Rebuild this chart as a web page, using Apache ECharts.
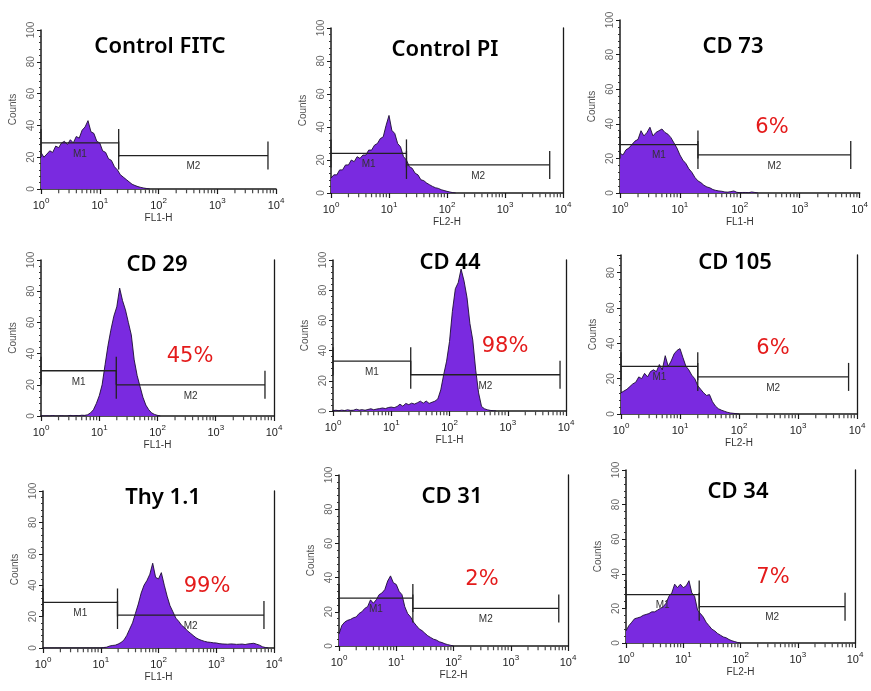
<!DOCTYPE html>
<html><head><meta charset="utf-8">
<script src="https://cdn.jsdelivr.net/npm/echarts@6/dist/echarts.min.js"></script>
<style>html,body{margin:0;padding:0;background:#fff}#c{width:871px;height:691px}</style>
</head><body><div id="c"></div>
<script>
// ---- DATA ----
const channels = [1, 1.12, 1.26, 1.41, 1.58, 1.78, 2, 2.24, 2.51, 2.82, 3.16, 3.55, 3.98, 4.47, 5.01, 5.62, 6.31, 7.08, 7.94, 8.91,
  10, 11.2, 12.6, 14.1, 15.8, 17.8, 20, 22.4, 25.1, 28.2, 31.6, 35.5, 39.8, 44.7, 50.1, 56.2, 63.1, 70.8, 79.4, 89.1,
  100, 112, 126, 141, 158, 178, 200, 224, 251, 282, 316, 355, 398, 447, 501, 562, 631, 708, 794, 891,
  1000, 1120, 1260, 1410, 1580, 1780, 2000, 2240, 2510, 2820, 3160, 3550, 3980, 4470, 5010, 5620, 6310, 7080, 7940, 8910, 10000];
const minorTickValues = [2,3,4,5,6,7,8,9,20,30,40,50,60,70,80,90,200,300,400,500,600,700,800,900,2000,3000,4000,5000,6000,7000,8000,9000];

const titles = ['Control FITC', 'Control PI', 'CD 73', 'CD 29', 'CD 44', 'CD 105', 'Thy 1.1', 'CD 31', 'CD 34'];
const percents = ['', '', '6%', '45%', '98%', '6%', '99%', '2%', '7%'];
const xAxisNames = ['FL1-H', 'FL2-H', 'FL1-H', 'FL1-H', 'FL1-H', 'FL2-H', 'FL1-H', 'FL2-H', 'FL2-H'];
const yAxisName = 'Counts';
const yMaxes = [100, 100, 100, 100, 100, 90, 100, 100, 100];
const gateNames = ['M1', 'M2'];

const countsFITC = [23,20,22,24,23,27,26,29,30,28,31,29,33,32,37,39,43,36,35,30,29,24,23,19,18,14,12,9,7.5,6,4.5,3,2.2,1.5,1,0.6,0.3,0];
const countsPI = [9,11,11,14,14,17,17,20,19,22,21,23,23,26,26,29,30,33,34,41,47,38,36,30,28,22,20,16,15,12,11,8,7.5,6,5,4,3.2,2.8,2,1.5,1,0.6,0.2,0];
const countsCD73 = [23,22,25,26,28,30,31,36,33,35,38,33,35,36,37,35,34,32,29,26,22,19,17,14,12,9,7,6,4.5,3.5,3,2,1.5,1.2,1,0.6,0.5,0.8,1.2,0.4,0.2,0.3,0.3,0.2,0.6,0.3,0];
const countsCD29 = [0.2,0,0.1,0,0.3,0,0,0.2,0,0,0.4,0.1,0.3,0.2,0.5,0.4,0.8,2,4,8,13,20,33,45,55,64,70,82,74,68,60,52,36,26,19,12,7,4,2,1,0.4,0];
const countsCD44 = [0.3,0.5,0.2,0.6,0.3,0.8,0.4,0.5,1.2,0.6,0.9,0.5,1,1.5,0.8,1.3,1.6,2,1.6,2.3,2.6,2.2,3,4.5,3.2,5,4.2,5.2,4.6,5.5,6.5,5.2,6.6,5,5.8,6.5,8,14,24,33,46,66,81,85,94,86,75,58,47,27,12,3,1.5,0.8,0.4,0.2,0];
const countsCD105 = [12,13,14,15.5,17,18,21,20,23,21,24,25,24,28,25,33,27,30,34,36,37,32,27,25,22,20,16,14,12,10.5,11,7,4.5,3,2.2,1.6,1,0.6,0.4,0.2,0];
const countsThy = [0,0,0,0,0,0,0,0,0,0,0,0,0,0,0,0,0,0,0,0,0,0.3,0.5,1.2,1.6,1.8,2.5,3.5,5,8,12,16,22,28,35,40,43,47,54,45,44,48,40,33,27,23,19,17,14.5,13,11,9.5,8,6.5,5.5,4.8,4.2,3.8,3.6,3.3,3.2,2.8,2.6,2.5,2.4,2.6,2.5,2.3,2.4,2.5,2.2,2.6,2.8,3,2.4,1.8,0.8,0.3,0];
const countsCD31 = [7,12,14,15,15.5,16.5,17,19,20,22,23,27,25,27,30,31,33,38,41,37,36,32,30,23,19,17,14,12,10,9,7.5,6,5,4,3.5,2.5,2,1.3,0.8,0.4,0];
const countsCD34 = [7,10,12,14,14.5,15,16,16.5,17,18,18,19,20,21,23,27,29,34,32,34,32,33,36,29,27,19,17,15,12,10,8,7,5.5,4.5,3.5,3,2,1.3,0.8,0.3,0];

const gatesFITC = [[1,21,29],[21,7300,21]];
const gatesPI = [[1,20,24],[20,5900,17]];
const gatesCD73 = [[1,20,28],[20,7100,22]];
const gatesCD29 = [[1,19.6,29],[19.6,7000,20]];
const gatesCD44 = [[1,21.6,33],[21.6,7900,24]];
const gatesCD105 = [[1,20,27],[20,7200,21]];
const gatesThy = [[1,19.5,29],[19.5,6700,21]];
const gatesCD31 = [[1,19.5,28],[19.5,6900,22]];
const gatesCD34 = [[1,19,28],[19,6700,21]];

const allCounts = [countsFITC, countsPI, countsCD73, countsCD29, countsCD44, countsCD105, countsThy, countsCD31, countsCD34];
const allGates = [gatesFITC, gatesPI, gatesCD73, gatesCD29, gatesCD44, gatesCD105, gatesThy, gatesCD31, gatesCD34];

// ---- LAYOUT ----
const layout = [
  {left:41, top:30, width:235, height:159, frame:false, tx:160, ty:47, px:0, py:0},
  {left:331, top:28, width:232, height:165, frame:true, tx:445, ty:50, px:0, py:0},
  {left:620, top:20, width:240, height:173, frame:false, tx:733, ty:47, px:772, py:128},
  {left:41, top:260, width:233, height:156, frame:true, tx:157, ty:265, px:190, py:357},
  {left:333, top:260, width:233, height:151, frame:true, tx:450, ty:263, px:505, py:347},
  {left:621, top:255, width:236, height:159, frame:true, tx:735, ty:263, px:773, py:349},
  {left:43, top:491, width:231, height:157, frame:true, tx:163, ty:498, px:207, py:587},
  {left:339, top:475, width:229, height:171, frame:true, tx:452, ty:497, px:482, py:580},
  {left:626, top:470, width:229, height:173, frame:true, tx:738, ty:492, px:773, py:578}
];

const axisColor = '#1a1a1a';
const fillColor = '#7a2ae0';

const grid = [], xAxis = [], yAxis = [], series = [], graphic = [];
layout.forEach((L, k) => {
  grid.push({left: L.left, top: L.top, width: L.width, height: L.height});
  xAxis.push({
    gridIndex: k, type: 'log', logBase: 10, min: 1, max: 10000, splitNumber: 4,
    name: xAxisNames[k], nameLocation: 'middle', nameGap: 24,
    nameTextStyle: {fontSize: 10, color: '#333', fontFamily: 'Liberation Sans'},
    axisLine: {lineStyle: {color: axisColor, width: 1.5}},
    axisTick: {show: true, length: 5, lineStyle: {color: axisColor, width: 1.2}},
    splitLine: {show: false},
    axisLabel: {
      margin: 8, color: '#222',
      formatter: v => '{b|10}{s|' + Math.round(Math.log10(v)) + '}',
      rich: {
        b: {fontSize: 11, fontFamily: 'Liberation Sans', color: '#222', verticalAlign: 'bottom'},
        s: {fontSize: 8, fontFamily: 'Liberation Sans', color: '#222', verticalAlign: 'top', padding: [0, 0, 6, 0]}
      }
    }
  });
  const yi = yAxis.length;
  yAxis.push({
    gridIndex: k, type: 'value', min: 0, max: yMaxes[k], interval: 20,
    name: yAxisName, nameLocation: 'middle', nameGap: 23,
    nameTextStyle: {fontSize: 10, color: '#555', fontFamily: 'Liberation Sans'},
    axisLine: {show: true, lineStyle: {color: axisColor, width: 1.5}},
    axisTick: {show: true, length: 4, lineStyle: {color: axisColor}},
    minorTick: {show: true, splitNumber: 5, length: 2, lineStyle: {color: '#333'}},
    splitLine: {show: false},
    axisLabel: {rotate: 90, fontSize: 10, color: '#666', margin: 5, fontFamily: 'Liberation Sans',
      showMaxLabel: yMaxes[k] % 20 === 0,
      formatter: v => (v % 20 === 0 ? String(v) : '')}
  });
  if (L.frame) {
    yAxis.push({
      gridIndex: k, type: 'value', min: 0, max: yMaxes[k], position: 'right',
      axisLine: {show: true, lineStyle: {color: axisColor, width: 1.3}},
      axisTick: {show: false}, axisLabel: {show: false}, splitLine: {show: false}
    });
  }
  series.push({
    type: 'line', xAxisIndex: k, yAxisIndex: yi, symbol: 'none', z: 2,
    data: allCounts[k].map((v, i) => [channels[i], v]),
    lineStyle: {color: '#1c0d33', width: 0.9},
    areaStyle: {color: fillColor, opacity: 1}
  });
  series.push({
    type: 'scatter', xAxisIndex: k, yAxisIndex: yi, silent: true, clip: false, z: 3,
    data: minorTickValues.map(v => [v, 0]),
    symbol: 'rect', symbolSize: [1.2, 3.5], symbolOffset: [0, 2.5],
    itemStyle: {color: axisColor}
  });
  series.push({
    type: 'custom', xAxisIndex: k, yAxisIndex: yi, silent: true, clip: false, z: 5,
    encode: {x: [0, 1], y: 2},
    data: allGates[k],
    renderItem: (params, api) => {
      const x1 = api.value(0), x2 = api.value(1), y = api.value(2);
      const a = api.coord([x1, y]), b = api.coord([x2, y]);
      const m = api.coord([Math.sqrt(x1 * x2), y]);
      const st = {stroke: '#222', lineWidth: 1.3};
      return {type: 'group', children: [
        {type: 'line', shape: {x1: a[0], y1: a[1], x2: b[0], y2: b[1]}, style: st},
        {type: 'line', shape: {x1: a[0], y1: a[1] - 14, x2: a[0], y2: a[1] + 14}, style: st},
        {type: 'line', shape: {x1: b[0], y1: b[1] - 14, x2: b[0], y2: b[1] + 14}, style: st},
        {type: 'text', style: {text: gateNames[params.dataIndex], x: m[0], y: m[1] + 11,
          align: 'center', verticalAlign: 'middle', fontSize: 10, fill: '#333', fontFamily: 'Liberation Sans'}}
      ]};
    }
  });
  graphic.push({type: 'text', z: 10, style: {text: titles[k], x: L.tx, y: L.ty, align: 'center', verticalAlign: 'middle',
    fontSize: 22, fontWeight: 600, fontFamily: 'Noto Sans', fill: '#000'}});
  if (percents[k]) {
    graphic.push({type: 'text', z: 10, style: {text: percents[k], x: L.px, y: L.py, align: 'center', verticalAlign: 'middle',
      fontSize: 21, fontFamily: 'DejaVu Sans', fill: '#e41b1b'}});
  }
});

const chart = echarts.init(document.getElementById('c'));
chart.setOption({animation: false, backgroundColor: '#fff', grid, xAxis, yAxis, series, graphic});
</script>
</body></html>
